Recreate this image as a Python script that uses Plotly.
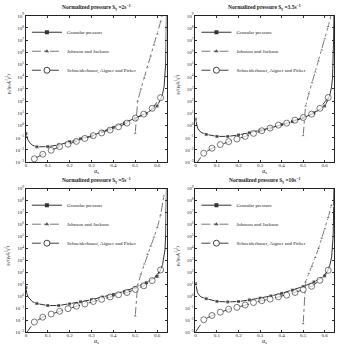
import plotly.graph_objects as go

# ---------------- data ----------------
SHEAR_RATES = ["2", "3.5", "5", "10"]
SERIES_NAMES = ["Granular pressure", "Johnson and Jackson", "Schneiderbauer, Aigner and Pirker"]

X_TICKS = [0, 0.1, 0.2, 0.3, 0.4, 0.5, 0.6]
X_TICK_LABELS = ["0", "0.1", "0.2", "0.3", "0.4", "0.5", "0.6"]
Y_TICKS = [1e-3, 1e-2, 1e-1, 1e0, 1e1, 1e2, 1e3, 1e4, 1e5, 1e6, 1e7, 1e8, 1e9]
Y_TICK_LABELS = ["10<sup>−3</sup>", "10<sup>−2</sup>", "10<sup>−1</sup>", "10<sup>0</sup>",
                 "10<sup>1</sup>", "10<sup>2</sup>", "10<sup>3</sup>", "10<sup>4</sup>",
                 "10<sup>5</sup>", "10<sup>6</sup>", "10<sup>7</sup>", "10<sup>8</sup>",
                 "10<sup>9</sup>"]

# Granular pressure (solid line, squares)
GRAN_X = [0, 0.004, 0.01, 0.02, 0.03, 0.05, 0.1, 0.15, 0.2, 0.25, 0.3, 0.35, 0.4,
          0.45, 0.5, 0.55, 0.6, 0.615, 0.625, 0.632, 0.636, 0.639, 0.641, 0.643]
GRAN_Y_2 = [2.3e-1, 1.1e-1, 6.3e-2, 3.5e-2, 2.5e-2, 1.8e-2, 1.9e-2, 2.6e-2, 4.8e-2, 8.3e-2,
            1.4e-1, 3.2e-1, 7.1e-1, 1.6, 4.0, 1.0e1, 4.0e1, 1.3e2, 4.0e2, 1.6e3, 7.9e3,
            1e5, 1e7, 3.2e9]
GRAN_Y_35 = [3.4, 1.26, 6.3e-1, 3.5e-1, 2.6e-1, 1.9e-1, 1.3e-1, 1.3e-1, 1.7e-1, 2.6e-1,
             4.0e-1, 6.6e-1, 1.2, 2.1, 4.3, 1.05e1, 4.0e1, 1.3e2, 4.0e2, 1.6e3, 7.9e3,
             1e5, 1e7, 3.2e9]
GRAN_Y_5 = [5.5, 1.8, 8.9e-1, 5.0e-1, 3.5e-1, 2.5e-1, 1.7e-1, 1.7e-1, 2.3e-1, 3.5e-1,
            5.2e-1, 8.7e-1, 1.45, 2.6, 5.6, 1.4e1, 4.5e1, 1.4e2, 4.5e2, 1.8e3, 7.9e3,
            1e5, 1e7, 3.2e9]
GRAN_Y_10 = [1.2e1, 4.0, 2.0, 1.1, 8.3e-1, 6.3e-1, 3.8e-1, 3.4e-1, 3.7e-1, 5.0e-1,
             7.1e-1, 1.07, 1.8, 3.3, 6.6, 1.6e1, 5.0e1, 1.6e2, 5.0e2, 2.0e3, 8.9e3,
             1e5, 1e7, 3.2e9]

# Johnson and Jackson (dash-dot line, triangles)
JJ_X = [0.5, 0.511, 0.526, 0.541, 0.556, 0.571, 0.586, 0.601, 0.616, 0.631]
JJ_Y_2 = [2.3e-1, 1.0e2, 1.0e3, 7.9e3, 6.3e4, 5.0e5, 4.0e6, 3.2e7, 3.2e8, 5.0e9]
JJ_Y_35 = [1.5e-1, 4.0e1, 4.0e2, 3.2e3, 2.5e4, 2.0e5, 1.6e6, 1.3e7, 1.3e8, 1.6e9]
JJ_Y_5 = [2.3e-2, 8.9, 7.1e1, 5.0e2, 3.2e3, 1.6e4, 8.9e4, 5.6e5, 6.3e6, 2.5e8]
JJ_Y_10 = [5.0e-3, 1.6e1, 7.9e1, 3.2e2, 1.8e3, 1.0e4, 7.1e4, 4.5e5, 4.0e6, 4.0e7]

# Schneiderbauer, Aigner and Pirker (dashed line, open circles)
SAP_X = [0, 0.0385, 0.077, 0.1155, 0.154, 0.1925, 0.231, 0.2695, 0.308, 0.3465,
         0.385, 0.4235, 0.462, 0.5005, 0.539, 0.5775, 0.616]
SAP_Y_2 = [1.3e-4, 1.9e-3, 4.5e-3, 9.5e-3, 1.9e-2, 3.0e-2, 5.1e-2, 8.9e-2, 1.5e-1,
           2.5e-1, 4.3e-1, 7.9e-1, 1.6, 4.1, 8.7, 2.6e1, 1.95e2]
SAP_Y_35 = [6.3e-4, 5.4e-3, 1.4e-2, 2.8e-2, 4.8e-2, 7.9e-2, 1.3e-1, 2.3e-1, 3.8e-1,
            6.3e-1, 1.1, 1.6, 2.8, 4.6, 8.7, 2.6e1, 2.0e2]
SAP_Y_5 = [7.9e-4, 7.1e-3, 1.8e-2, 3.3e-2, 5.6e-2, 9.3e-2, 1.5e-1, 2.3e-1, 3.7e-1,
           5.6e-1, 8.9e-1, 1.35, 2.1, 3.8, 7.6, 2.1e1, 1.6e2]
SAP_Y_10 = [1.0e-3, 1.1e-2, 2.5e-2, 4.7e-2, 8.3e-2, 1.2e-1, 1.9e-1, 3.0e-1, 4.3e-1,
            5.9e-1, 9.1e-1, 1.26, 2.1, 3.7, 6.9, 2.2e1, 1.5e2]

PANELS = [
    (SHEAR_RATES[0], GRAN_Y_2, JJ_Y_2, SAP_Y_2),
    (SHEAR_RATES[1], GRAN_Y_35, JJ_Y_35, SAP_Y_35),
    (SHEAR_RATES[2], GRAN_Y_5, JJ_Y_5, SAP_Y_5),
    (SHEAR_RATES[3], GRAN_Y_10, JJ_Y_10, SAP_Y_10),
]

# ---------------- layout / style ----------------
W, H = 337, 347
FONT = "Liberation Serif, DejaVu Serif, serif"
# panel boxes in pixels: (left, right, top, bottom)
BOXES = [(25, 166, 13, 162), (195, 334, 13, 162), (25, 166, 189, 335), (195, 334, 189, 335)]

GRAN_STYLE = dict(line=dict(color="#333333", width=1, dash="solid"),
                  marker_symbol="square", marker_color="#333333")
JJ_STYLE = dict(line=dict(color="#555555", width=0.8, dash="dashdot"),
                marker_symbol="triangle-up", marker_color="#555555")
SAP_STYLE = dict(line=dict(color="#111111", width=0.8, dash="dash"),
                 marker_symbol="circle", marker_color="white",
                 marker_line=dict(color="#111111", width=0.8))

gran_sizes = [4 if abs(x * 20 - round(x * 20)) < 1e-6 else 0 for x in GRAN_X]
sap_sizes = [0 if x == 0 else 6 for x in SAP_X]
jj_sizes = [4] * len(JJ_X)

fig = go.Figure()
annotations = []
layout = {}

for i, (rate, gy, jy, sy) in enumerate(PANELS):
    n = "" if i == 0 else str(i + 1)
    xa, ya = "x" + n, "y" + n
    lg = "legend" + n
    l, r, t, b = BOXES[i]
    xd = [l / W, r / W]
    yd = [1 - b / H, 1 - t / H]

    # data traces
    fig.add_trace(go.Scatter(x=GRAN_X, y=gy, mode="lines+markers", xaxis=xa, yaxis=ya,
                             marker=dict(size=gran_sizes), showlegend=False, **GRAN_STYLE))
    fig.add_trace(go.Scatter(x=JJ_X, y=jy, mode="lines+markers", xaxis=xa, yaxis=ya,
                             marker=dict(size=jj_sizes), showlegend=False, **JJ_STYLE))
    fig.add_trace(go.Scatter(x=SAP_X, y=sy, mode="lines+markers", xaxis=xa, yaxis=ya,
                             marker=dict(size=sap_sizes), showlegend=False, **SAP_STYLE))
    # legend entries
    for name, style, ms in zip(SERIES_NAMES, [GRAN_STYLE, JJ_STYLE, SAP_STYLE], [4, 4, 6]):
        fig.add_trace(go.Scatter(x=[None], y=[None], mode="lines+markers", name=name,
                                 xaxis=xa, yaxis=ya, legend=lg, marker=dict(size=ms),
                                 showlegend=True, **style))

    layout["xaxis" + n] = dict(domain=xd, anchor=ya, range=[0, 0.643],
                               tickvals=X_TICKS, ticktext=X_TICK_LABELS,
                               ticks="inside", ticklen=2, tickwidth=0.6, tickcolor="#333",
                               ticklabelstandoff=-2,
                               showline=True, linecolor="#222", linewidth=0.8, mirror="allticks",
                               showgrid=False, zeroline=False,
                               tickfont=dict(family=FONT, size=5, color="#222"))
    layout["yaxis" + n] = dict(domain=yd, anchor=xa, type="log", range=[-3, 9],
                               tickvals=Y_TICKS, ticktext=Y_TICK_LABELS,
                               ticks="inside", ticklen=2, tickwidth=0.6, tickcolor="#333",
                               showline=True, linecolor="#222", linewidth=0.8, mirror="allticks",
                               showgrid=False, zeroline=False,
                               tickfont=dict(family=FONT, size=5, color="#222"))
    layout[lg] = dict(x=(l + 1) / W, y=1 - (t + 2) / H, xanchor="left", yanchor="top",
                      bgcolor="rgba(0,0,0,0)", font=dict(family=FONT, size=5, color="#222"),
                      itemwidth=30, tracegroupgap=0)

    cx = (l + r) / 2 / W
    annotations.append(dict(text="<b>Normalized pressure S<sub>γ</sub> =" + rate + "s<sup>−1</sup></b>",
                            x=cx, y=1 - (t - 8) / H, xref="paper", yref="paper",
                            xanchor="center", yanchor="middle",
                            showarrow=False, font=dict(family=FONT, size=5.5, color="#222")))
    annotations.append(dict(text="α<sub>s</sub>", x=cx, y=1 - (b + 9) / H,
                            xref="paper", yref="paper", xanchor="center", yanchor="middle",
                            showarrow=False, font=dict(family=FONT, size=6, color="#222")))
    annotations.append(dict(text="p<sub>s</sub>/(ρ<sub>s</sub>d<sub>s</sub><sup>2</sup>γ̇<sup>2</sup>)",
                            x=(l - 18) / W, y=1 - ((t + b) / 2 - 5) / H,
                            xref="paper", yref="paper", xanchor="center", yanchor="middle",
                            showarrow=False, textangle=-90,
                            font=dict(family=FONT, size=4.5, color="#222")))

fig.update_layout(width=W, height=H, autosize=False,
                  margin=dict(l=0, r=0, t=0, b=0),
                  paper_bgcolor="white", plot_bgcolor="white",
                  annotations=annotations, **layout)

fig.write_html("out.html")
